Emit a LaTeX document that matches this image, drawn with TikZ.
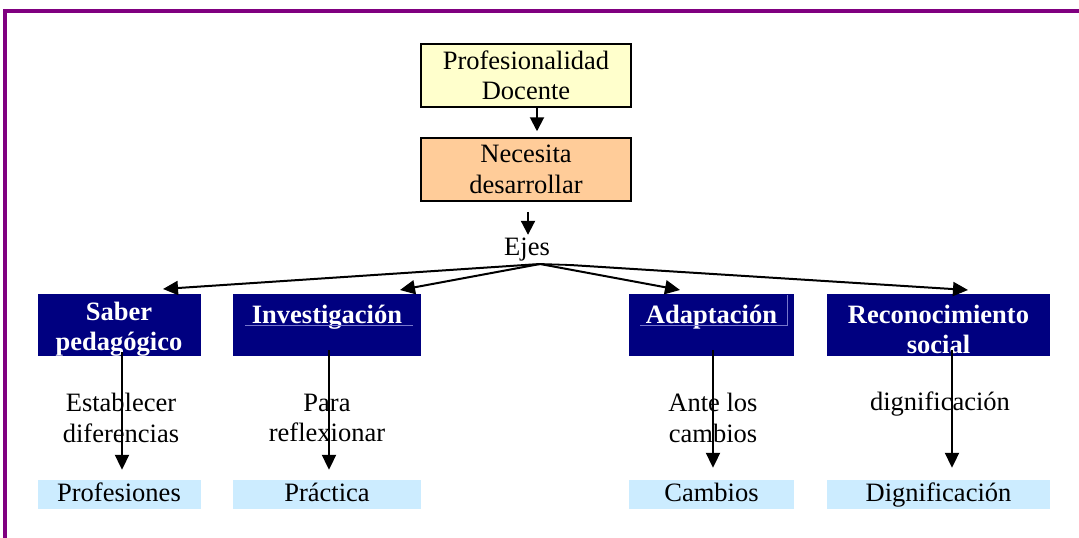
\documentclass[tikz,border=0pt]{standalone}
\usepackage{fontspec}
\setmainfont{Liberation Serif}
\usetikzlibrary{arrows.meta}
\definecolor{framepurple}{HTML}{800080}
\definecolor{topyellow}{HTML}{FFFFCC}
\definecolor{toporange}{HTML}{FFCC99}
\definecolor{navybox}{HTML}{000080}
\definecolor{lightbox}{HTML}{CCECFF}
\definecolor{faintline}{HTML}{7777CC}
\tikzset{
  txt/.style={font=\fontsize{26.5}{30.5}\selectfont, align=center, inner sep=0pt},
  topbox/.style={txt, draw=black, line width=1.5pt, minimum width=210pt, minimum height=63pt},
  axisbox/.style={txt, font=\fontsize{26.5}{30}\selectfont\bfseries, text=white, fill=navybox, minimum height=62pt, anchor=north},
  resbox/.style={txt, fill=lightbox, minimum height=29pt, text height=17pt, text depth=4pt},
  arr/.style={line width=2pt, -{Triangle[length=15pt,width=14pt]}},
  sarr/.style={line width=2pt, -{Triangle[length=14pt,width=14pt]}},
}
\begin{document}
\begin{tikzpicture}[x=1pt,y=-1pt]
\useasboundingbox (0,0) rectangle (1079,538);
\fill[white] (0,0) rectangle (1079,538);
% frame
\draw[framepurple, line width=4pt] (4.7,538) -- (4.7,10.7) -- (1079,10.7);

% top boxes
\node[topbox, fill=topyellow] (prof) at (526,75.5) {Profesionalidad\\Docente};
\node[topbox, fill=toporange] (nec) at (526,169.5) {Necesita\\desarrollar};
\node[txt, text height=18pt, text depth=6pt] (ejes) at (527,249) {Ejes};
\coordinate (hubL) at (540,264);
\coordinate (hubR) at (570,265);

% axis boxes
\node[axisbox, minimum width=163pt] (saber) at (119,294) {\rule{0pt}{26pt}Saber\\pedagógico};
\node[axisbox, minimum width=188pt] (inv) at (327,294) {\rule{0pt}{26pt}Investigación\\\mbox{}};
\node[axisbox, minimum width=165pt] (adap) at (711.5,294) {\rule{0pt}{26pt}Adaptación\\\mbox{}};
\node[axisbox, minimum width=223pt] (recon) at (938.5,294) {\rule{0pt}{26pt}Reconocimiento\\social};

% faint text-frame lines
\draw[faintline, line width=0.6pt] ([xshift=-82pt,yshift=-31pt]inv.north) -- ([xshift=86pt,yshift=-31pt]inv.north);
\draw[faintline, line width=0.6pt] ([xshift=-71.5pt,yshift=-31pt]adap.north) -- ([xshift=75.5pt,yshift=-31pt]adap.north) -- ([xshift=75.5pt,yshift=-1pt]adap.north);

% result boxes
\node[resbox, minimum width=163pt] (r1) at (119,494.5) {Profesiones};
\node[resbox, minimum width=188pt] (r2) at (327,494.5) {Práctica};
\node[resbox, minimum width=165pt] (r3) at (711.5,494.5) {Cambios};
\node[resbox, minimum width=223pt] (r4) at (938.5,494.5) {Dignificación};

% middle labels
\node[txt] (l1) at (121,418) {Establecer\\diferencias};
\node[txt] (l2) at (327,418) {Para\\reflexionar};
\node[txt] (l3) at (713,418) {Ante los\\cambios};
\node[txt, text height=18pt, text depth=6pt] (l4) at (940,404) {dignificación};

% connectors
\draw[sarr] ([xshift=11pt]prof.south) -- ([xshift=11pt,yshift=6pt]nec.north);
\draw[sarr] ([xshift=2pt,yshift=-10pt]nec.south) -- ([xshift=1pt,yshift=2pt]ejes.north);
\draw[line width=1.8pt] (hubL) -- (hubR);
\draw[arr] (hubL) -- ([xshift=44pt,yshift=5pt]saber.north);
\draw[arr] (hubL) -- ([xshift=73pt,yshift=4pt]inv.north);
\draw[arr] (hubL) -- ([xshift=-31.5pt,yshift=4pt]adap.north);
\draw[arr] (hubR) -- ([xshift=29.5pt,yshift=4pt]recon.north);

\draw[arr] ([xshift=3pt,yshift=4pt]saber.south) -- ([xshift=3pt,yshift=10pt]r1.north);
\draw[arr] ([xshift=2pt,yshift=6pt]inv.south) -- ([xshift=2pt,yshift=10pt]r2.north);
\draw[arr] ([xshift=1.5pt,yshift=6pt]adap.south) -- ([xshift=1.5pt,yshift=12pt]r3.north);
\draw[arr] ([xshift=13.5pt,yshift=6pt]recon.south) -- ([xshift=13.5pt,yshift=12pt]r4.north);
\end{tikzpicture}
\end{document}
